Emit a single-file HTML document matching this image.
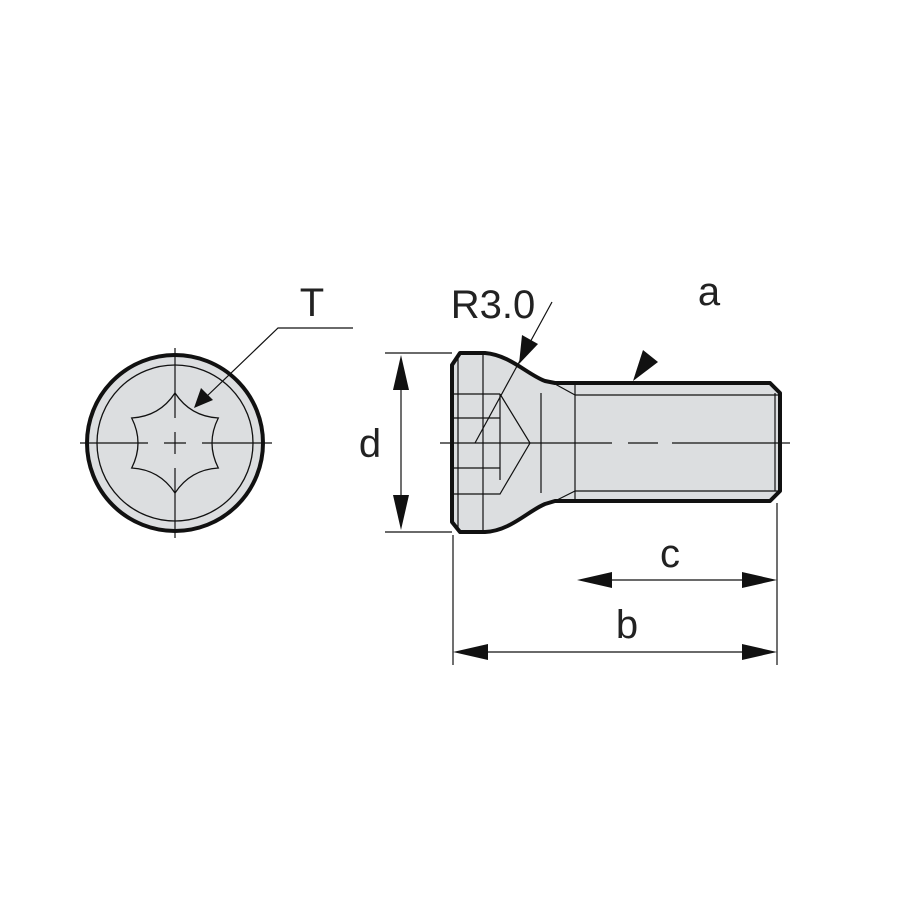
<!DOCTYPE html>
<html><head><style>html,body{margin:0;padding:0;background:#fff}svg{display:block}</style></head>
<body>
<svg width="900" height="900" viewBox="0 0 900 900" xmlns="http://www.w3.org/2000/svg" font-family="Liberation Sans, sans-serif">
<rect width="900" height="900" fill="#fff"/>
<!-- end view -->
<circle cx="175" cy="443" r="88" fill="#dcdee0" stroke="#111" stroke-width="4"/>
<circle cx="175" cy="443" r="78" fill="none" stroke="#111" stroke-width="1.3"/>
<path d="M175,393 Q190.4,416.4 218.3,418 Q205.7,443 218.3,468 Q190.4,469.6 175,493 Q159.6,469.6 131.7,468 Q144.3,443 131.7,418 Q159.6,416.4 175,393 Z" fill="#dcdee0" stroke="#111" stroke-width="1.3"/>
<g stroke="#111" stroke-width="1.2">
<line x1="80" y1="443" x2="148" y2="443"/><line x1="164" y1="443" x2="186" y2="443"/><line x1="202" y1="443" x2="272" y2="443"/>
<line x1="175" y1="348" x2="175" y2="418"/><line x1="175" y1="432" x2="175" y2="454"/><line x1="175" y1="468" x2="175" y2="538"/>
<polyline points="353,328 278,328 205,398" fill="none"/>
</g>
<polygon points="194,408 201,388 213,400" fill="#111"/>
<text x="312" y="316" font-size="40" text-anchor="middle" fill="#222">T</text>
<!-- side view -->
<path d="M452,365 L460,353 L485,353 C510,355 528,375 545,381 L555,383 L770,383 L780,393 L780,491 L770,501 L555,501 L545,504 C528,511 510,531 485,532 L460,532 L452,522 Z" fill="#dcdee0" stroke="#111" stroke-width="4" stroke-linejoin="round"/>
<g stroke="#111" stroke-width="1.2" fill="none">
<line x1="458" y1="356" x2="458" y2="530"/>
<line x1="483" y1="355" x2="483" y2="531"/>
<line x1="500" y1="394" x2="500" y2="480"/>
<line x1="453" y1="394" x2="500" y2="394"/>
<line x1="453" y1="418" x2="500" y2="418"/>
<line x1="453" y1="468" x2="500" y2="468"/>
<polyline points="500,394 530,443 500,494 453,494"/>
<line x1="541" y1="393" x2="541" y2="493"/>
<line x1="575" y1="384" x2="575" y2="500"/>
<line x1="575" y1="395" x2="780" y2="395"/>
<line x1="575" y1="491" x2="780" y2="491"/>
<line x1="555" y1="384" x2="575" y2="395"/>
<line x1="555" y1="501" x2="575" y2="491"/>
<line x1="775" y1="393" x2="775" y2="491"/>
<line x1="440" y1="443" x2="612" y2="443"/><line x1="628" y1="443" x2="658" y2="443"/><line x1="672" y1="443" x2="790" y2="443"/>
<line x1="552" y1="302" x2="475" y2="443"/>
<!-- dims -->
<line x1="385" y1="353" x2="452" y2="353"/>
<line x1="385" y1="532" x2="452" y2="532"/>
<line x1="401" y1="385" x2="401" y2="500"/>
<line x1="453" y1="535" x2="453" y2="665"/>
<line x1="777" y1="503" x2="777" y2="665"/>
<line x1="612" y1="580" x2="742" y2="580"/>
<line x1="488" y1="652" x2="742" y2="652"/>
</g>
<g fill="#111">
<polygon points="401,355 393,390 409,390"/>
<polygon points="401,530 393,495 409,495"/>
<polygon points="577,580 612,572 612,588"/>
<polygon points="777,580 742,572 742,588"/>
<polygon points="453,652 488,644 488,660"/>
<polygon points="777,652 742,644 742,660"/>
<polygon points="519,364 522,335 538,344"/>
<polygon points="633,381 643,350 658,362"/>
</g>
<text x="493" y="318" font-size="40" text-anchor="middle" fill="#222">R3.0</text>
<text x="709" y="305" font-size="40" text-anchor="middle" fill="#222">a</text>
<text x="370" y="457" font-size="40" text-anchor="middle" fill="#222">d</text>
<text x="670" y="567" font-size="40" text-anchor="middle" fill="#222">c</text>
<text x="627" y="638" font-size="40" text-anchor="middle" fill="#222">b</text>
</svg>
</body></html>
